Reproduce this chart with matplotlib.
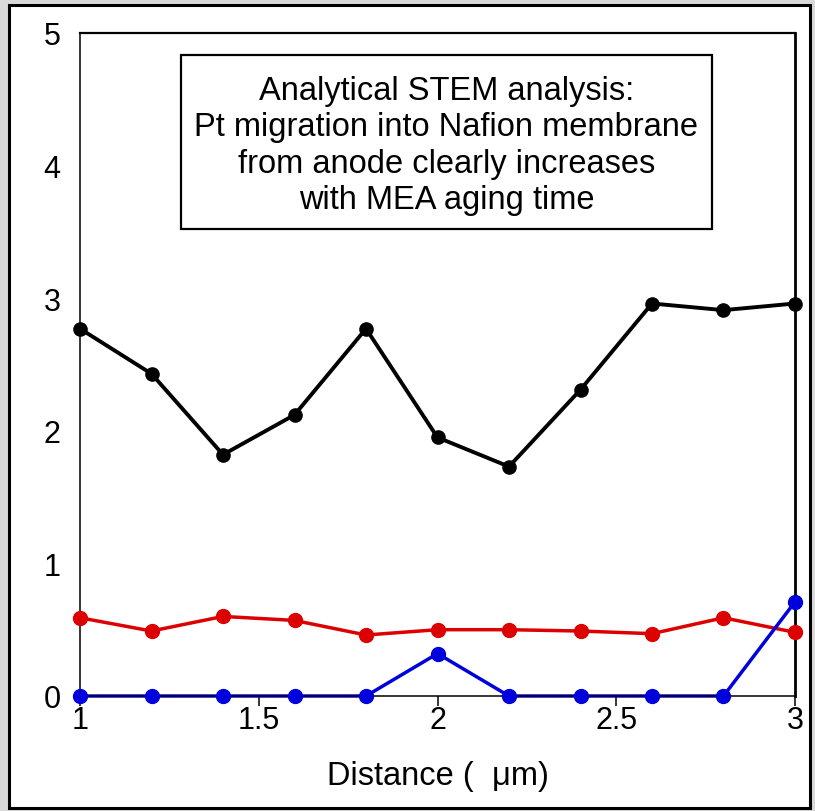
import matplotlib
matplotlib.use("Agg")
import matplotlib.pyplot as plt
from matplotlib.patches import Rectangle

plt.rcParams['font.family'] = ['Liberation Sans', 'DejaVu Sans']

distance = [1.0, 1.2, 1.4, 1.6, 1.8, 2.0, 2.2, 2.4, 2.6, 2.8, 3.0]
black_series = [2.77, 2.43, 1.82, 2.12, 2.77, 1.95, 1.73, 2.31, 2.96, 2.91, 2.96]
red_series = [0.59, 0.49, 0.60, 0.57, 0.46, 0.50, 0.50, 0.49, 0.47, 0.59, 0.48]
blue_series = [0.0, 0.0, 0.0, 0.0, 0.0, 0.32, 0.0, 0.0, 0.0, 0.0, 0.71]
series_colors = ['#000000', '#dd0000', '#0000dd']
x_ticks = [1, 1.5, 2, 2.5, 3]
x_tick_labels = ['1', '1.5', '2', '2.5', '3']
y_ticks = [0, 1, 2, 3, 4, 5]
y_tick_labels = ['0', '1', '2', '3', '4', '5']
annotation = ("Analytical STEM analysis:\nPt migration into Nafion membrane\n"
              "from anode clearly increases\nwith MEA aging time")
x_label = "Distance (  \u03bcm)"

W, H = 815, 812
fig = plt.figure(figsize=(W / 100, H / 100), dpi=100)
fig.patch.set_facecolor('#d9d9d9')

# white panel with black border (drawn beneath the axes)
fig.patches.append(Rectangle((9 / W, 1 - 809 / H), (810 - 9) / W, (809 - 6) / H,
                             transform=fig.transFigure, facecolor='white',
                             edgecolor='black', linewidth=2.2, zorder=0))

ax = fig.add_axes([80 / W, 1 - 697 / H, 715 / W, 663 / H])
ax.set_zorder(1)
ax.set_xlim(1, 3)
ax.set_ylim(0, 5)

for ys, c, lw, ms in [(black_series, series_colors[0], 2.8, 9.5),
                      (red_series, series_colors[1], 2.5, 10),
                      (blue_series, series_colors[2], 2.5, 10)]:
    ax.plot(distance, ys, color=c, linewidth=lw, zorder=2, clip_on=False)
    ax.plot(distance, ys, linestyle='none', marker='o', markersize=ms,
            color=c, zorder=3, clip_on=False)

ax.set_xticks(x_ticks)
ax.set_xticklabels(x_tick_labels)
ax.set_yticks(y_ticks)
ax.set_yticklabels(y_tick_labels)
ax.tick_params(axis='x', direction='out', length=7.5, width=1.1, pad=-1.0,
               labelsize=22, colors='black')
ax.tick_params(axis='y', length=0, pad=14, labelsize=22)

ax.spines['left'].set_linewidth(1.1)
ax.spines['bottom'].set_linewidth(1.1)
ax.spines['top'].set_linewidth(1.6)
ax.spines['right'].set_linewidth(2.0)

ax.set_xlabel(x_label, fontsize=23.5, labelpad=18)

# annotation box
bx0, bx1, by0, by1 = 181, 712, 56, 230
fig.patches.append(Rectangle((bx0 / W, 1 - by1 / H), (bx1 - bx0) / W, (by1 - by0) / H,
                             transform=fig.transFigure, facecolor='white',
                             edgecolor='black', linewidth=1.6, zorder=5))
fig.text((bx0 + bx1) / 2 / W, 1 - 146 / H, annotation, ha='center', va='center',
         fontsize=23.5, linespacing=1.22, zorder=6)

fig.savefig('out.png', dpi=100, facecolor=fig.get_facecolor())
